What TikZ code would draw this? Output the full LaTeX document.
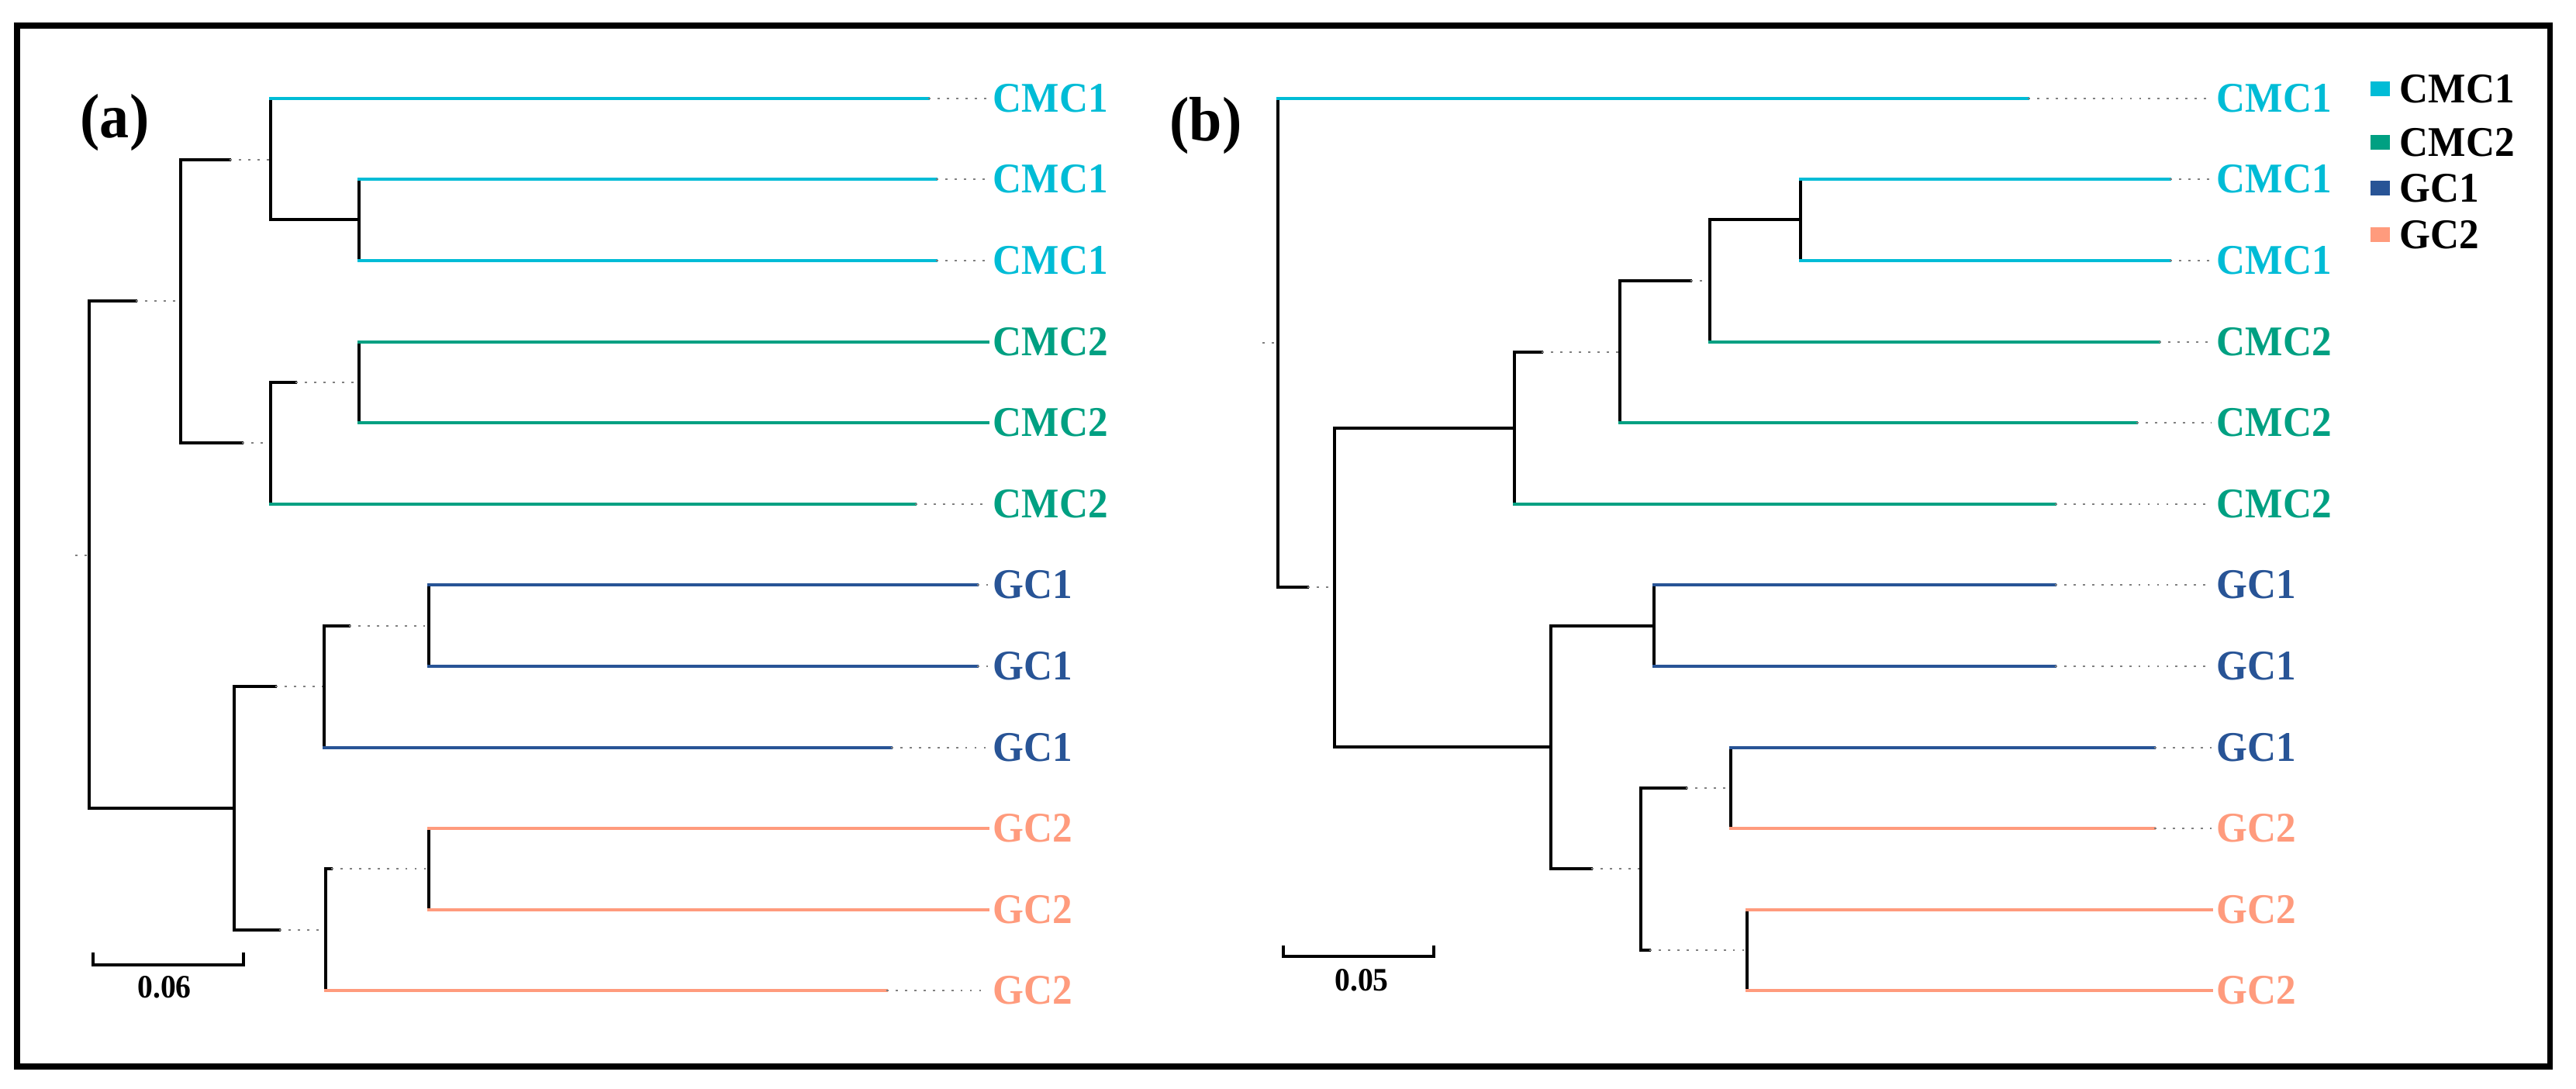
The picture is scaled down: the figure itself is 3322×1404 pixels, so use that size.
\documentclass[tikz,border=0pt]{standalone}
\usepackage{fontspec}
\setmainfont{Liberation Serif}[FakeStretch=0.94]
\usetikzlibrary{positioning}

\definecolor{cmcone}{RGB}{0,188,214}
\definecolor{cmctwo}{RGB}{0,160,130}
\definecolor{gcone}{RGB}{40,84,150}
\definecolor{gctwo}{RGB}{255,155,125}

% parent, child, end of the solid part (x), colour
\newcommand\treebranch[4]{%
  \draw[stem] (#1) -- (#1 |- #2);
  \draw[limb, #4] (#1 |- #2) -- (#3,0 |- #2);
  \draw[trail] (#3,0 |- #2) -- (#2);
}

\begin{document}
\begin{tikzpicture}[x=0.01cm, y=-0.01cm,
    stem/.style={line width=1.35pt, line cap=rect},
    limb/.style={line width=1.35pt, line cap=rect},
    trail/.style={gray, line width=0.8pt, dash pattern=on 0.8pt off 2.6pt},
    leaf/.style={anchor=west, inner xsep=0.06cm, inner ysep=0pt, font=\bfseries\fontsize{15.5}{17}\selectfont},
    swatch/.style={minimum width=0.25cm, minimum height=0.19cm, inner sep=0pt},
    keytext/.style={inner sep=0pt, font=\bfseries\fontsize{15.5}{17}\selectfont},
    panel/.style={font=\bfseries\fontsize{23}{25}\selectfont},
    scalebar/.style={line width=1.2pt}]
		\useasboundingbox (0,0) rectangle (3322,1404);
		\draw [line width=2pt] (22,33) rectangle (3288,1375);

		% (a)
		\node (pa) [panel] at (148,158) {(a)};
		\node (a0)  [leaf, cmcone] at (1274,127)  {CMC1};
		\node (a1)  [leaf, cmcone] at (1274,231)  {CMC1};
		\node (a2)  [leaf, cmcone] at (1274,336)  {CMC1};
		\node (a3)  [leaf, cmctwo] at (1274,441)  {CMC2};
		\node (a4)  [leaf, cmctwo] at (1274,545)  {CMC2};
		\node (a5)  [leaf, cmctwo] at (1274,650)  {CMC2};
		\node (a6)  [leaf, gcone]  at (1274,754)  {GC1};
		\node (a7)  [leaf, gcone]  at (1274,859)  {GC1};
		\node (a8)  [leaf, gcone]  at (1274,964)  {GC1};
		\node (a9)  [leaf, gctwo]  at (1274,1068) {GC2};
		\node (a10) [leaf, gctwo]  at (1274,1173) {GC2};
		\node (a11) [leaf, gctwo]  at (1274,1277) {GC2};
		\coordinate (aT)   at (97,716);
		\coordinate (aR)   at (115,716);
		\coordinate (aC)   at (233,388);
		\coordinate (aC1)  at (349,206);
		\coordinate (aC1b) at (463,283);
		\coordinate (aC2)  at (349,571);
		\coordinate (aC2b) at (463,493);
		\coordinate (aG)   at (302,1042);
		\coordinate (aG1)  at (418,885);
		\coordinate (aG1b) at (553,807);
		\coordinate (aG2)  at (420,1199);
		\coordinate (aG2b) at (553,1120);
		\draw [trail] (aT) -- (aR);
		\treebranch{aR}{aC}{175}{black}
		\treebranch{aR}{aG}{302}{black}
		\treebranch{aC}{aC1}{296}{black}
		\treebranch{aC}{aC2}{312}{black}
		\treebranch{aC1}{a0}{1197}{cmcone}
		\treebranch{aC1}{aC1b}{463}{black}
		\treebranch{aC1b}{a1}{1207}{cmcone}
		\treebranch{aC1b}{a2}{1207}{cmcone}
		\treebranch{aC2}{aC2b}{381}{black}
		\treebranch{aC2}{a5}{1180}{cmctwo}
		\treebranch{aC2b}{a3}{1274}{cmctwo}
		\treebranch{aC2b}{a4}{1274}{cmctwo}
		\treebranch{aG}{aG1}{355}{black}
		\treebranch{aG}{aG2}{360}{black}
		\treebranch{aG1}{aG1b}{450}{black}
		\treebranch{aG1}{a8}{1149}{gcone}
		\treebranch{aG1b}{a6}{1260}{gcone}
		\treebranch{aG1b}{a7}{1260}{gcone}
		\treebranch{aG2}{aG2b}{427}{black}
		\treebranch{aG2}{a11}{1143}{gctwo}
		\treebranch{aG2b}{a9}{1274}{gctwo}
		\treebranch{aG2b}{a10}{1274}{gctwo}
		\draw [scalebar] (120,1228) |- (314,1244) -- (314,1228);
		\node (sa) [font=\bfseries\fontsize{12}{14}\selectfont] at (212,1273) {0.06};

		% (b)
		\node (pb) [panel] at (1555,162) {(b)};
		\node (b0)  [leaf, cmcone] at (2852,127)  {CMC1};
		\node (b1)  [leaf, cmcone] at (2852,231)  {CMC1};
		\node (b2)  [leaf, cmcone] at (2852,336)  {CMC1};
		\node (b3)  [leaf, cmctwo] at (2852,441)  {CMC2};
		\node (b4)  [leaf, cmctwo] at (2852,545)  {CMC2};
		\node (b5)  [leaf, cmctwo] at (2852,650)  {CMC2};
		\node (b6)  [leaf, gcone]  at (2852,754)  {GC1};
		\node (b7)  [leaf, gcone]  at (2852,859)  {GC1};
		\node (b8)  [leaf, gcone]  at (2852,964)  {GC1};
		\node (b9)  [leaf, gctwo]  at (2852,1068) {GC2};
		\node (b10) [leaf, gctwo]  at (2852,1173) {GC2};
		\node (b11) [leaf, gctwo]  at (2852,1277) {GC2};
		\coordinate (bT)  at (1628,442);
		\coordinate (bR)  at (1648,442);
		\coordinate (bA)  at (1721,757);
		\coordinate (bB)  at (1953,552);
		\coordinate (bB2) at (2089,454);
		\coordinate (bB3) at (2205,362);
		\coordinate (bB4) at (2322,283);
		\coordinate (bG)  at (2000,963);
		\coordinate (bG1) at (2133,807);
		\coordinate (bG2) at (2116,1120);
		\coordinate (bG3) at (2232,1016);
		\coordinate (bG4) at (2253,1225);
		\draw [trail] (bT) -- (bR);
		\treebranch{bR}{b0}{2615}{cmcone}
		\treebranch{bR}{bA}{1686}{black}
		\treebranch{bA}{bB}{1953}{black}
		\treebranch{bA}{bG}{2000}{black}
		\treebranch{bB}{bB2}{1988}{black}
		\treebranch{bB}{b5}{2650}{cmctwo}
		\treebranch{bB2}{bB3}{2180}{black}
		\treebranch{bB2}{b4}{2755}{cmctwo}
		\treebranch{bB3}{bB4}{2322}{black}
		\treebranch{bB3}{b3}{2784}{cmctwo}
		\treebranch{bB4}{b1}{2798}{cmcone}
		\treebranch{bB4}{b2}{2798}{cmcone}
		\treebranch{bG}{bG1}{2133}{black}
		\treebranch{bG}{bG2}{2052}{black}
		\treebranch{bG1}{b6}{2650}{gcone}
		\treebranch{bG1}{b7}{2650}{gcone}
		\treebranch{bG2}{bG3}{2174}{black}
		\treebranch{bG2}{bG4}{2127}{black}
		\treebranch{bG3}{b8}{2778}{gcone}
		\treebranch{bG3}{b9}{2778}{gctwo}
		\treebranch{bG4}{b10}{2852}{gctwo}
		\treebranch{bG4}{b11}{2852}{gctwo}
		\draw [scalebar] (1655,1219) |- (1849,1233) -- (1849,1219);
		\node (sb) [font=\bfseries\fontsize{12}{14}\selectfont] at (1756,1264) {0.05};

		% legend
		\node (k1) [swatch, fill=cmcone] at (3069,115) {};
		\node (k2) [swatch, fill=cmctwo] at (3069,184) {};
		\node (k3) [swatch, fill=gcone]  at (3069,243) {};
		\node (k4) [swatch, fill=gctwo]  at (3069,303) {};
		\node [keytext, right=0.12cm of k1] {CMC1};
		\node [keytext, right=0.12cm of k2] {CMC2};
		\node [keytext, right=0.12cm of k3] {GC1};
		\node [keytext, right=0.12cm of k4] {GC2};
		\end{tikzpicture}
\end{document}
